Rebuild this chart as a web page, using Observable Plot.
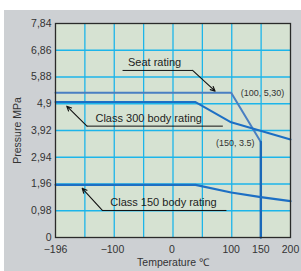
<!DOCTYPE html>
<html>
<head>
<meta charset="utf-8">
<script src="https://cdn.jsdelivr.net/npm/d3@7"></script>
<script src="https://cdn.jsdelivr.net/npm/@observablehq/plot@0.6"></script>
<style>
  html, body { margin: 0; padding: 0; background: #fff; width: 301px; height: 271px; overflow: hidden; }
  #panel { position: absolute; left: 4px; top: 10px; width: 297px; height: 261px; background: #cdd0d3; }
  #chart { position: absolute; left: 0; top: 0; }
</style>
</head>
<body>
<div id="panel"></div>
<div id="chart"></div>
<script>
// ---- data ----
const xTicks = [-196, -100, 0, 100, 150, 200];
const xTickLabels = ["\u2212196", "\u2212100", "0", "100", "150", "200"];
const yTicks = [0, 0.98, 1.96, 2.94, 3.92, 4.9, 5.88, 6.86, 7.84];
const yTickLabels = ["0", "0,98", "1,96", "2,94", "3,92", "4,9", "5,88", "6,86", "7,84"];

const seatTemp = [-196, 100, 150];
const seatP = [5.30, 5.30, 3.5];
const limitTemp = [150, 150];
const limitP = [3.5, 0];
const class300Temp = [-196, 40, 100, 200];
const class300P = [4.96, 4.96, 4.22, 3.59];
const class150Temp = [-196, 40, 100, 150, 200];
const class150P = [1.93, 1.93, 1.65, 1.48, 1.33];

const toRows = (t, p) => t.map((d, i) => ({t: d, p: p[i]}));
const xGrid = d3.range(1, 8).map(i => -196 + i * 396 / 8);

const labelFont = "Liberation Sans, Arial, sans-serif";

const plot = Plot.plot({
  width: 301,
  height: 271,
  marginLeft: 55,
  marginRight: 11,
  marginTop: 23,
  marginBottom: 34,
  x: {domain: [-196, 200]},
  y: {domain: [0, 7.84]},
  style: {background: "transparent", fontFamily: labelFont, fontSize: "10.5px", color: "#333"},
  marks: [
    Plot.frame({fill: "#d6e2d2", stroke: "none"}),
    Plot.ruleX(xGrid, {stroke: "#1db5ea", strokeWidth: 1.3}),
    Plot.ruleY(yTicks.slice(1, -1), {stroke: "#1db5ea", strokeWidth: 1.3}),
    Plot.line(toRows(seatTemp, seatP), {x: "t", y: "p", stroke: "#4a7fc2", strokeWidth: 2}),
    Plot.line(toRows(limitTemp, limitP), {x: "t", y: "p", stroke: "#1a68b8", strokeWidth: 2.4}),
    Plot.line(toRows(class300Temp, class300P), {x: "t", y: "p", stroke: "#1d6fc4", strokeWidth: 2}),
    Plot.line(toRows(class150Temp, class150P), {x: "t", y: "p", stroke: "#1d6fc4", strokeWidth: 2.2}),
    // annotations: Seat rating
    Plot.text(["Seat rating"], {x: -29, y: 6.42, text: d => d, fontSize: 11, fill: "#222"}),
    Plot.link([0], {x1: -83, y1: 6.12, x2: 35, y2: 6.12, stroke: "#111", strokeWidth: 1}),
    Plot.arrow([0], {x1: 35, y1: 6.12, x2: 73, y2: 5.36, stroke: "#111", strokeWidth: 1.1, headLength: 7, headAngle: 50}),
    Plot.text(["(100, 5,30)"], {x: 153, y: 5.30, text: d => d, fontSize: 9, fill: "#333"}),
    // Class 300
    Plot.text(["Class 300 body rating"], {x: -39, y: 4.35, text: d => d, fontSize: 11, fill: "#222"}),
    Plot.link([0], {x1: -143, y1: 4.08, x2: 86, y2: 4.08, stroke: "#111", strokeWidth: 1}),
    Plot.arrow([0], {x1: -143, y1: 4.08, x2: -177, y2: 4.81, stroke: "#111", strokeWidth: 1.1, headLength: 7, headAngle: 50}),
    Plot.text(["(150, 3.5)"], {x: 107, y: 3.45, text: d => d, fontSize: 9, fill: "#333"}),
    // Class 150
    Plot.text(["Class 150 body rating"], {x: -14, y: 1.28, text: d => d, fontSize: 11, fill: "#222"}),
    Plot.link([0], {x1: -117, y1: 0.99, x2: 92, y2: 0.99, stroke: "#111", strokeWidth: 1}),
    Plot.arrow([0], {x1: -117, y1: 0.99, x2: -151, y2: 1.80, stroke: "#111", strokeWidth: 1.1, headLength: 7, headAngle: 50}),
    Plot.frame({stroke: "#2a2a2a", strokeWidth: 1.3}),
    Plot.axisX(xTicks, {
      tickSize: 0, tickPadding: 8,
      tickFormat: (d, i) => xTickLabels[i],
      label: "Temperature \u2103", labelAnchor: "center", labelOffset: 28, labelArrow: "none"
    }),
    Plot.axisY(yTicks, {
      tickSize: 0, tickPadding: 4,
      tickFormat: (d, i) => yTickLabels[i],
      label: "Pressure MPa", labelAnchor: "center", labelOffset: 42, labelArrow: "none"
    })
  ]
});
document.getElementById("chart").appendChild(plot);
</script>
</body>
</html>
